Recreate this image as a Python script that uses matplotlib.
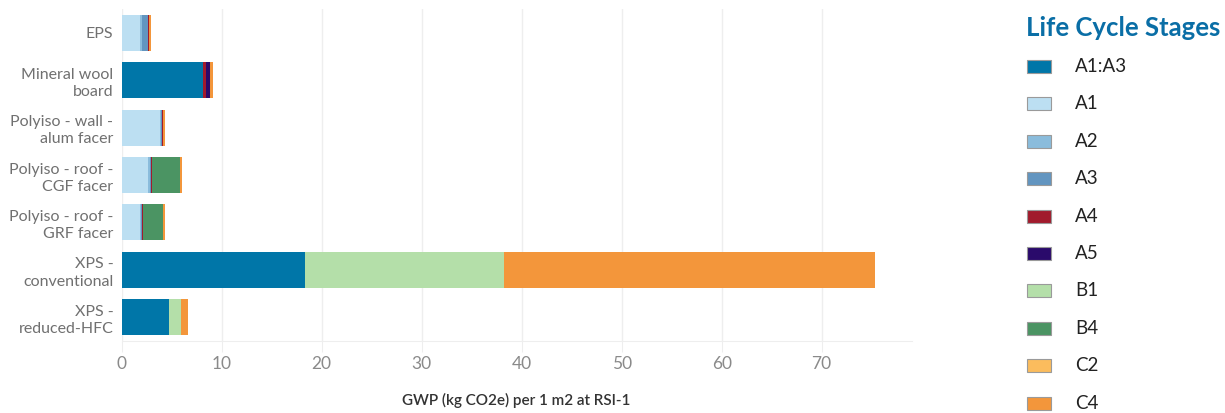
import matplotlib
matplotlib.use("Agg")
import matplotlib.pyplot as plt
from matplotlib.patches import Rectangle

plt.rcParams["font.family"] = ["Lato", "DejaVu Sans"]

categories = ["EPS", "Mineral wool\nboard", "Polyiso - wall -\nalum facer",
              "Polyiso - roof -\nCGF facer", "Polyiso - roof -\nGRF facer",
              "XPS -\nconventional", "XPS -\nreduced-HFC"]

# values per stage, one per category (top to bottom)
a1_a3 = [0, 8.13, 0, 0, 0, 18.3, 4.73]
a1 = [1.83, 0, 3.83, 2.66, 1.83, 0, 0]
a2 = [0.2, 0, 0.1, 0.13, 0.1, 0, 0]
a3 = [0.57, 0, 0.1, 0.13, 0.1, 0, 0]
a4 = [0.13, 0.3, 0.1, 0.07, 0.1, 0, 0]
a5 = [0, 0.4, 0, 0, 0, 0, 0]
b1 = [0, 0, 0, 0, 0, 19.9, 1.2]
b4 = [0, 0, 0, 2.84, 2.0, 0, 0]
c2 = [0, 0, 0, 0, 0, 0, 0]
c4 = [0.17, 0.27, 0.17, 0.2, 0.2, 37.1, 0.7]

stage_names = ["A1:A3", "A1", "A2", "A3", "A4", "A5", "B1", "B4", "C2", "C4"]
stage_values = [a1_a3, a1, a2, a3, a4, a5, b1, b4, c2, c4]
stage_colors = ["#0076a8", "#bcdff2", "#8abcdc", "#6295c0", "#a11b2c",
                "#2a0a6b", "#b4dfa9", "#4b9463", "#fbbc5d", "#f3963b"]

fig = plt.figure(figsize=(12.25, 4.13), dpi=100)
ax = fig.add_axes([0.0993, 0.175, 0.6449, 0.8025])

y = list(range(len(categories)))
left = [0.0] * len(categories)
for name, vals, col in zip(stage_names, stage_values, stage_colors):
    ax.barh(y, vals, left=left, height=0.76, color=col, linewidth=0, label=name)
    left = [l + v for l, v in zip(left, vals)]

ax.set_ylim(-0.5, len(categories) - 0.5)
ax.invert_yaxis()
ax.set_xlim(0, 79)
ax.set_xticks(range(0, 80, 10))
ax.set_yticks(y)
ax.set_yticklabels(categories, fontsize=11.5, color="#707070", linespacing=1.3)
ax.tick_params(axis="y", length=0, pad=6)
ax.tick_params(axis="x", length=8, color="#eeeeee", labelsize=12.5,
               labelcolor="#8a8a8a", pad=3)
ax.grid(axis="x", color="#eeeeee", linewidth=1)
ax.set_axisbelow(True)
for s in ["top", "right", "left"]:
    ax.spines[s].set_visible(False)
ax.spines["bottom"].set_color("#eeeeee")
ax.set_xlabel("GWP (kg CO2e) per 1 m2 at RSI-1", fontsize=11,
              color="#333333", fontweight="semibold", va="center")
ax.xaxis.set_label_coords(0.5, -0.179)

# legend drawn by hand to match spacing
fig.text(1026 / 1225, 1 - 28 / 413, "Life Cycle Stages", fontsize=18.5,
         fontweight="bold", color="#0a6ea6", va="center", ha="left")
for i, (name, col) in enumerate(zip(stage_names, stage_colors)):
    yc = 1 - (66.5 + 37.4 * i) / 413
    fig.add_artist(Rectangle((1027 / 1225, yc - 6.5 / 413), 24 / 1225, 13 / 413,
                             transform=fig.transFigure, facecolor=col,
                             edgecolor="#9a9a9a", linewidth=0.8))
    fig.text(1075 / 1225, yc, name, fontsize=13.5, color="#222222",
             va="center", ha="left")

fig.savefig("out.png", dpi=100)
